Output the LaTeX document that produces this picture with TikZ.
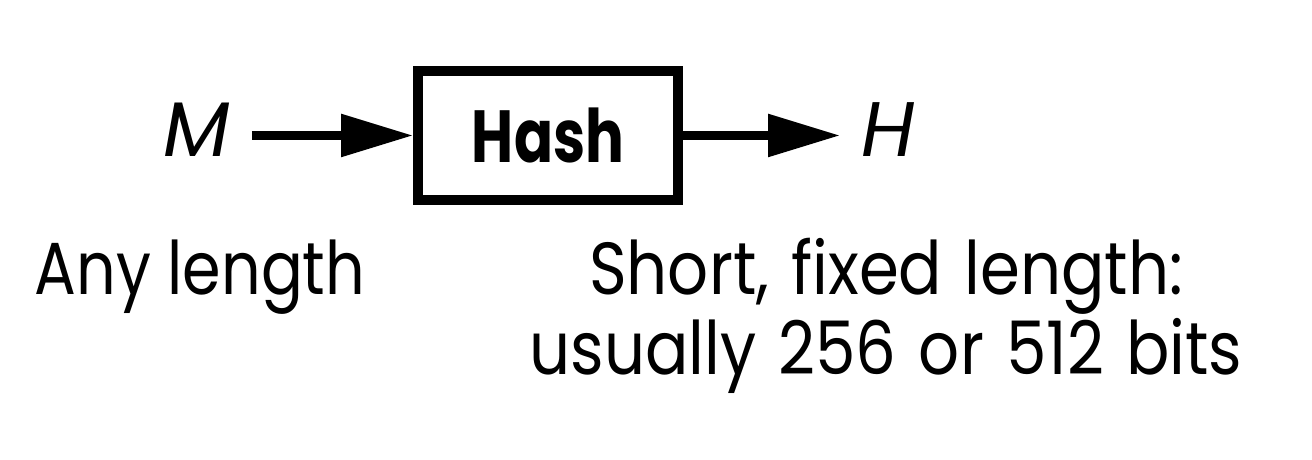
\documentclass[tikz,border=0pt]{standalone}
\usepackage{fontspec}
\setmainfont{Poppins}[FakeStretch=0.84]
\newfontfamily\hashfont{Poppins}[FakeStretch=0.78]
\newfontfamily\symfont{Poppins}
\newfontfamily\notefont{Poppins}[FakeStretch=0.87,WordSpace=1.3]
\usetikzlibrary{arrows.meta}
\tikzset{
  hashbox/.style={draw,line width=2.8pt,minimum width=2.6cm,minimum height=1.29cm,
    inner sep=0pt,font=\hashfont\fontsize{21}{26}\selectfont\bfseries},
  flow/.style={line width=2.5pt,-{Triangle[length=7.2mm,width=4.1mm]}},
  sym/.style={font=\symfont\fontsize{22}{26}\selectfont\itshape,inner ysep=0pt,inner xsep=2.1mm},
  note/.style={font=\fontsize{21}{22.8}\selectfont,align=center,inner sep=0pt}
}
\begin{document}
\begin{tikzpicture}[x=1cm,y=1cm]
  \useasboundingbox (0,0) rectangle (13.12,4.6);
  % the hash block and its input / output
  \node[hashbox] (hash) at (5.48,3.245) {Hash};
  \node[sym,anchor=base] (m) at (1.97,3.03) {M};
  \node[sym,anchor=base] (h) at (8.885,3.03) {H};
  \draw[flow] (m.east |- hash.west) -- (hash.west);
  \draw[flow] (hash.east) -- (h.west |- hash.east);
  % notes under the diagram
  \node[note,anchor=base] (anylen) at (2.0,1.65) {Any length};
  \node[note,font=\notefont\fontsize{21}{22.8}\selectfont,anchor=base] (fixlen) at (8.86,0.85)
    {Short, fixed length:\\usually 256 or 512 bits};
\end{tikzpicture}
\end{document}
